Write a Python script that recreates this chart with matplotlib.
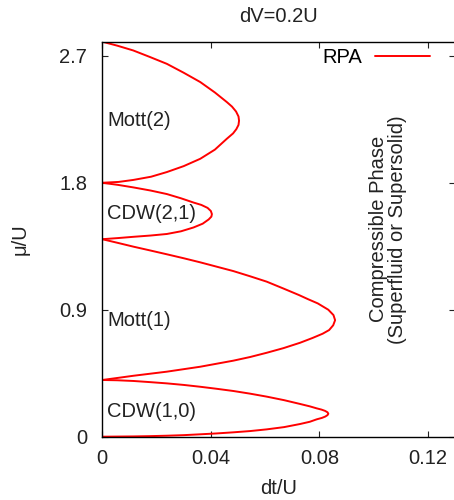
import matplotlib
matplotlib.use("Agg")
import matplotlib.pyplot as plt

plt.rcParams['font.family'] = ['Liberation Sans', 'DejaVu Sans']

# Lobe boundaries: (dt/U, mu/U), from lower cusp to upper cusp
cdw10_t  = [0.0, 0.0115, 0.0175, 0.0238, 0.0300, 0.0361, 0.0420, 0.0483, 0.0545, 0.0606,
            0.0670, 0.0729, 0.0765, 0.0790, 0.0809, 0.0822, 0.0830, 0.0833, 0.0830, 0.0821,
            0.0808, 0.0790, 0.0765, 0.0729, 0.0670, 0.0606, 0.0545, 0.0483, 0.0420, 0.0361,
            0.0300, 0.0238, 0.0175, 0.0115, 0.0055, 0.0]
cdw10_mu = [0.000, 0.002, 0.004, 0.007, 0.011, 0.017, 0.023, 0.031, 0.040, 0.052,
            0.068, 0.090, 0.106, 0.123, 0.133, 0.143, 0.153, 0.163, 0.173, 0.183,
            0.192, 0.201, 0.215, 0.232, 0.259, 0.284, 0.305, 0.324, 0.340, 0.354,
            0.367, 0.378, 0.387, 0.395, 0.400, 0.402]

mott1_t  = [0.0, 0.0058, 0.0115, 0.0238, 0.0361, 0.0483, 0.0545, 0.0606, 0.0668, 0.0729,
            0.0775, 0.0812, 0.0836, 0.0851, 0.0858, 0.0852, 0.0833, 0.0794, 0.0758, 0.0725,
            0.0668, 0.0606, 0.0545, 0.0483, 0.0422, 0.0361, 0.0300, 0.0238, 0.0177, 0.0115,
            0.0057, 0.0]
mott1_mu = [0.402, 0.417, 0.432, 0.461, 0.496, 0.539, 0.565, 0.595, 0.628, 0.666,
            0.700, 0.730, 0.756, 0.790, 0.826, 0.862, 0.900, 0.945, 0.975, 1.004,
            1.050, 1.099, 1.137, 1.174, 1.205, 1.236, 1.265, 1.293, 1.320, 1.347,
            1.374, 1.400]

cdw21_t  = [0.0, 0.0058, 0.0115, 0.0178, 0.0238, 0.0290, 0.0336, 0.0370, 0.0392, 0.0402,
            0.0404, 0.0400, 0.0388, 0.0365, 0.0336, 0.0290, 0.0238, 0.0178, 0.0115, 0.0058, 0.0]
cdw21_mu = [1.400, 1.408, 1.417, 1.426, 1.437, 1.456, 1.483, 1.510, 1.540, 1.560,
            1.578, 1.600, 1.622, 1.643, 1.660, 1.690, 1.720, 1.745, 1.767, 1.785, 1.800]

mott2_t  = [0.0, 0.0060, 0.0114, 0.0180, 0.0238, 0.0300, 0.0361, 0.0415, 0.0459, 0.0482,
            0.0494, 0.0502, 0.0504, 0.0502, 0.0493, 0.0478, 0.0459, 0.0415, 0.0361, 0.0300,
            0.0238, 0.0175, 0.0114, 0.0055, 0.0]
mott2_mu = [1.800, 1.806, 1.820, 1.843, 1.876, 1.918, 1.970, 2.035, 2.112, 2.150,
            2.180, 2.210, 2.240, 2.270, 2.305, 2.340, 2.372, 2.440, 2.514, 2.580,
            2.643, 2.692, 2.738, 2.772, 2.800]

lobe_labels = ["CDW(1,0)", "Mott(1)", "CDW(2,1)", "Mott(2)"]
label_mu = [0.182, 0.827, 1.585, 2.243]

xticks = [0, 0.04, 0.08, 0.12]
xticklabels = ["0", "0.04", "0.08", "0.12"]
yticks = [0, 0.9, 1.8, 2.7]
yticklabels = ["0", "0.9", "1.8", "2.7"]

FS = 14.5
TXT = '#222222'

fig = plt.figure(figsize=(4.54, 5.0), dpi=100)
ax = fig.add_axes([0.2253, 0.1266, 0.777, 0.79])

red = '#ff0000'
lw = 1.4
kw = dict(color=red, lw=lw, solid_joinstyle='round', solid_capstyle='round')
ax.plot(cdw10_t, cdw10_mu, label='RPA', **kw)
ax.plot(mott1_t, mott1_mu, **kw)
ax.plot(cdw21_t, cdw21_mu, **kw)
ax.plot(mott2_t, mott2_mu, **kw)

for lab, m in zip(lobe_labels, label_mu):
    ax.text(0.0017, m, lab, fontsize=FS, color=TXT, va='center', ha='left')

ax.text(0.1053, 1.47, "Compressible Phase\n(Superfluid or Supersolid)", rotation=90,
        fontsize=FS, color=TXT, ha='center', va='center', linespacing=1.0)

ax.set_xlim(0, 0.13)
ax.set_ylim(0, 2.8)
ax.set_xticks(xticks)
ax.set_xticklabels(xticklabels)
ax.set_yticks(yticks)
ax.set_yticklabels(yticklabels)
ax.tick_params(direction='in', top=True, right=True, labelsize=FS, length=4,
               colors=TXT, pad=9)
ax.tick_params(axis='y', pad=11)
ax.set_xlabel("dt/U", fontsize=FS, color=TXT, labelpad=8)
ax.set_ylabel("μ/U", fontsize=FS, color=TXT, labelpad=21)
ax.set_title("dV=0.2U", fontsize=FS, color=TXT, pad=14)
for s in ax.spines.values():
    s.set_linewidth(1.0)

ax.legend(loc='upper right', bbox_to_anchor=(0.953, 1.004), frameon=False, markerfirst=False,
          fontsize=FS, handlelength=2.75, handletextpad=0.65, borderaxespad=0.0)

fig.savefig("out.png", dpi=100)
